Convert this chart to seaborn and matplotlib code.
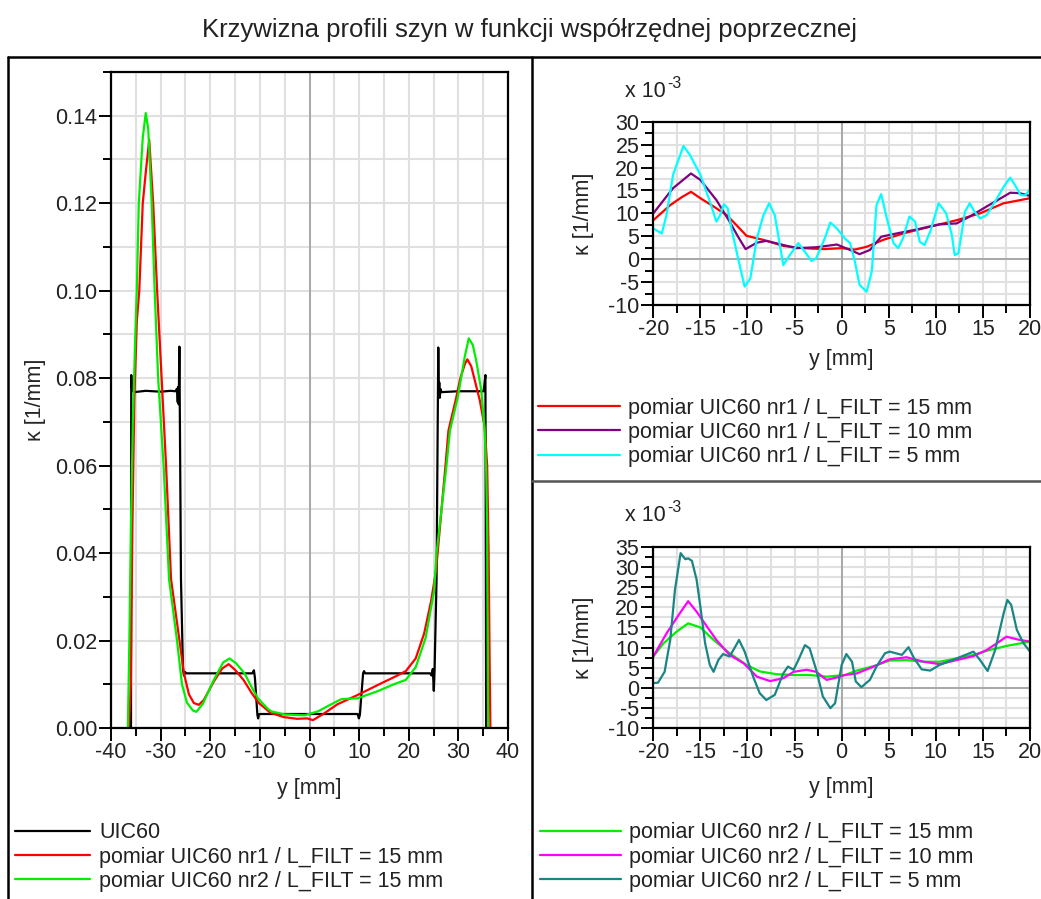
import matplotlib
matplotlib.use("Agg")
import matplotlib.pyplot as plt
from matplotlib.ticker import MultipleLocator, FormatStrFormatter
from matplotlib.lines import Line2D
import seaborn as sns

# ---------------- data ----------------
# UIC60 nominal profile curvature [1/mm]
uic60_y = [-36.05, -35.97, -35.92, -35.85, -35.7, -35.3, -33.0, -30.0, -28.0, -27.0,
           -26.7, -26.55, -26.45, -26.35, -26.22, -25.9, -25.5, -25.3, -25.1, -24.8,
           -18.0, -11.5, -11.2, -11.0, -10.5, -10.35, -10.2, -9.8, 0.0, 9.7,
           9.95, 10.15, 10.8, 11.0, 11.2, 18.0, 24.3, 24.6, 24.85, 25.05,
           25.2, 25.6, 25.95, 26.05, 26.15, 26.25, 26.4, 26.6, 30.0, 35.1,
           35.45, 35.6]
uic60_k = [0.0, 0.0, 0.0807, 0.0785, 0.0772, 0.0768, 0.0771, 0.0769, 0.0771, 0.0770,
           0.0776, 0.0745, 0.0780, 0.0740, 0.0872, 0.0340, 0.0135, 0.0120, 0.0128, 0.0125,
           0.0125, 0.0125, 0.0132, 0.0115, 0.0030, 0.0022, 0.0031, 0.0032, 0.0032, 0.0032,
           0.0022, 0.0030, 0.0125, 0.0130, 0.0125, 0.0125, 0.0125, 0.0120, 0.0135, 0.0085,
           0.0130, 0.0340, 0.0870, 0.0760, 0.0790, 0.0755, 0.0775, 0.0768, 0.0770, 0.0770,
           0.0807, 0.0]

# measurement nr1, L_FILT = 15 mm, full width [1/mm]
nr1_y = [-36.4, -36.0, -35.7, -35.3, -34.8, -34.3, -33.6, -33.0, -32.3, -31.5,
         -30.7, -29.8, -28.9, -27.9, -26.2, -25.3, -24.3, -23.3, -22.3, -21.3,
         -19.3, -17.6, -16.3, -15.0, -13.3, -11.6, -10.2, -7.9, -5.2, -2.5,
         -0.5, 0.7, 2.9, 5.6, 9.6, 13.7, 17.7, 19.4, 21.4, 23.1,
         24.5, 25.5, 27.4, 28.0, 29.6, 30.4, 31.3, 31.8, 32.6, 34.3,
         35.3, 35.8, 36.1, 36.3, 36.45]
nr1_k = [0.0, 0.010, 0.045, 0.075, 0.093, 0.100, 0.120, 0.127, 0.1345, 0.120,
         0.100, 0.080, 0.060, 0.034, 0.020, 0.0125, 0.0077, 0.0057, 0.0053, 0.0064,
         0.0106, 0.0136, 0.0146, 0.0133, 0.0110, 0.0079, 0.0057, 0.0035, 0.0025, 0.0021,
         0.0022, 0.0018, 0.0033, 0.0054, 0.0075, 0.0098, 0.0120, 0.0130, 0.0159, 0.0216,
         0.0290, 0.0360, 0.0600, 0.0680, 0.0757, 0.0800, 0.0832, 0.0843, 0.0827, 0.0750,
         0.0689, 0.0600, 0.0400, 0.0150, 0.0]

# measurement nr2, L_FILT = 15 mm, full width [1/mm]
nr2_y = [-36.6, -36.3, -36.0, -35.6, -35.1, -34.8, -34.4, -33.6, -33.0, -32.5,
         -31.8, -31.2, -30.5, -29.4, -28.3, -26.7, -25.7, -24.7, -23.5, -22.8,
         -21.5, -19.5, -17.4, -16.1, -14.8, -13.1, -11.5, -10.4, -8.5, -7.7,
         -5.0, -1.0, 1.7, 4.0, 6.4, 9.7, 13.7, 17.0, 19.4, 21.4,
         23.4, 25.1, 25.6, 27.6, 28.3, 29.9, 31.3, 32.1, 32.9, 33.6,
         34.6, 35.3, 35.6, 35.8, 35.9, 36.0]
nr2_k = [0.0, 0.020, 0.045, 0.070, 0.090, 0.100, 0.120, 0.135, 0.1406, 0.137,
         0.120, 0.100, 0.080, 0.060, 0.034, 0.020, 0.0100, 0.0058, 0.0040, 0.0037,
         0.0055, 0.0105, 0.0150, 0.0159, 0.0148, 0.0125, 0.0090, 0.0068, 0.0045, 0.0038,
         0.0031, 0.0029, 0.0038, 0.0052, 0.0066, 0.0068, 0.0084, 0.0100, 0.0110, 0.0139,
         0.0206, 0.0313, 0.0400, 0.0600, 0.0680, 0.0757, 0.0850, 0.0891, 0.0876, 0.0840,
         0.0773, 0.0681, 0.0590, 0.0450, 0.0200, 0.0]

# nr1 in the central zone, x 10^-3 [1/mm]
c1_f15_y = [-20.0, -18.2, -17.0, -16.0, -15.0, -13.6, -12.2, -11.2, -10.1, -8.3,
            -6.2, -4.1, -1.9, 0.0, 1.4, 2.65, 4.4, 6.5, 9.4, 12.2,
            14.7, 17.2, 20.0]
c1_f15_k = [8.5, 11.8, 13.5, 14.7, 13.3, 11.5, 9.6, 7.5, 5.1, 4.2,
            2.9, 2.4, 2.2, 2.4, 2.1, 2.7, 4.2, 5.6, 7.1, 8.5,
            10.0, 12.2, 13.3]

c1_f10_y = [-20.0, -17.9, -16.0, -15.0, -13.3, -11.9, -11.0, -10.2, -9.0, -8.0,
            -6.2, -4.8, -2.7, -0.5, 0.9, 1.9, 3.0, 4.2, 5.8, 8.0,
            10.4, 12.2, 13.6, 15.4, 17.9, 18.9, 20.0]
c1_f10_k = [10.0, 15.5, 18.7, 17.3, 12.9, 8.2, 4.9, 2.2, 3.6, 4.0,
            3.1, 2.4, 2.6, 3.2, 2.0, 1.1, 2.0, 4.9, 5.6, 6.5,
            7.6, 7.8, 9.3, 11.5, 14.5, 14.4, 13.8]

c1_f5_y = [-20.0, -19.1, -18.6, -17.9, -16.8, -16.1, -15.0, -14.0, -13.3, -12.9,
           -12.5, -12.1, -11.7, -11.0, -10.3, -9.7, -9.0, -8.3, -7.7, -7.1,
           -6.2, -5.5, -4.6, -3.9, -3.2, -2.7, -1.8, -1.2, -0.5, 0.35,
           0.9, 1.4, 1.9, 2.65, 3.2, 3.7, 4.2, 4.8, 5.5, 6.0,
           6.5, 7.2, 7.8, 8.3, 8.8, 9.4, 10.3, 11.1, 11.7, 12.0,
           12.4, 13.1, 13.6, 14.1, 14.7, 15.4, 16.5, 17.2, 17.9, 18.4,
           19.0, 19.5, 20.0]
c1_f5_k = [6.7, 5.6, 9.6, 18.4, 24.7, 22.7, 18.4, 12.6, 8.2, 9.6,
           12.0, 11.1, 6.7, 0.2, -6.0, -4.2, 4.6, 9.6, 12.2, 9.6,
           -1.3, 0.9, 3.5, 1.6, -0.4, 0.2, 4.5, 8.0, 6.7, 4.5,
           3.5, -0.5, -5.6, -7.1, -2.7, 11.8, 14.2, 8.9, 3.5, 2.4,
           4.5, 9.3, 8.2, 3.8, 3.1, 6.0, 12.2, 10.0, 5.3, 0.9,
           1.3, 10.4, 12.2, 10.4, 8.9, 9.6, 13.3, 15.8, 17.8, 16.2,
           14.0, 13.9, 15.3]

# nr2 in the central zone, x 10^-3 [1/mm]
c2_f15_y = [-20.0, -18.9, -17.5, -16.3, -15.0, -13.6, -11.9, -10.1, -8.7, -6.9,
            -5.1, -3.4, -1.6, 0.35, 1.6, 3.4, 5.1, 6.9, 8.7, 10.4,
            12.2, 14.0, 15.7, 17.5, 20.0]
c2_f15_k = [7.8, 11.1, 14.0, 16.0, 15.0, 11.9, 8.6, 5.7, 4.1, 3.4,
            3.2, 3.2, 2.8, 3.2, 4.3, 5.4, 6.8, 6.9, 6.5, 6.5,
            7.3, 8.2, 9.4, 10.4, 11.5]

c2_f10_y = [-20.0, -18.6, -17.3, -16.3, -15.4, -14.3, -13.3, -11.9, -10.4, -9.0,
            -7.6, -6.2, -5.1, -3.7, -2.7, -1.6, -0.5, 0.35, 1.6, 3.4,
            5.1, 6.9, 8.7, 10.4, 12.2, 14.0, 15.4, 16.5, 17.5, 18.9,
            20.0]
c2_f10_k = [7.8, 13.5, 18.1, 21.5, 18.9, 15.2, 11.9, 8.2, 6.1, 2.8,
            1.7, 2.4, 4.0, 4.5, 4.0, 2.0, 2.6, 3.2, 3.6, 5.3,
            7.1, 7.6, 6.5, 5.9, 6.9, 7.9, 9.4, 11.1, 12.7, 11.9,
            11.5]

c2_f5_y = [-20.0, -19.5, -18.8, -18.2, -17.7, -17.1, -16.6, -16.3, -15.9, -15.4,
           -15.0, -14.5, -14.0, -13.6, -13.1, -12.6, -11.9, -11.3, -10.9, -10.3,
           -9.4, -8.7, -8.0, -7.1, -6.2, -5.7, -5.1, -4.6, -3.9, -3.4,
           -2.7, -2.0, -1.2, -0.7, 0.0, 0.5, 1.1, 1.5, 2.1, 3.0,
           3.7, 4.6, 5.1, 6.4, 7.1, 7.7, 8.5, 9.4, 10.4, 12.2,
           14.0, 14.7, 15.5, 16.3, 17.2, 17.6, 18.0, 18.6, 19.3, 20.0]
c2_f5_k = [1.2, 1.3, 4.0, 11.9, 24.3, 33.4, 31.9, 32.1, 31.5, 26.8,
           20.1, 11.1, 5.7, 4.0, 6.9, 8.4, 7.8, 10.2, 11.9, 9.0,
           2.8, -1.3, -3.0, -1.7, 3.6, 5.3, 4.5, 6.9, 10.6, 9.8,
           4.5, -2.1, -5.0, -3.8, 5.7, 8.4, 6.5, 1.6, 0.2, 2.0,
           5.3, 8.6, 9.0, 8.2, 10.1, 7.3, 4.6, 4.3, 5.7, 7.3,
           9.0, 6.9, 4.2, 9.4, 18.5, 21.8, 20.6, 14.4, 11.1, 9.0]

labels_main = ["UIC60",
               "pomiar UIC60 nr1 / L_FILT = 15 mm",
               "pomiar UIC60 nr2 / L_FILT = 15 mm"]
labels_nr1 = ["pomiar UIC60 nr1 / L_FILT = 15 mm",
              "pomiar UIC60 nr1 / L_FILT = 10 mm",
              "pomiar UIC60 nr1 / L_FILT = 5 mm"]
labels_nr2 = ["pomiar UIC60 nr2 / L_FILT = 15 mm",
              "pomiar UIC60 nr2 / L_FILT = 10 mm",
              "pomiar UIC60 nr2 / L_FILT = 5 mm"]

# ---------------- style ----------------
sns.set_style("white")
plt.rcParams["font.family"] = ["Liberation Sans", "DejaVu Sans"]
plt.rcParams["axes.unicode_minus"] = False
plt.rcParams["text.color"] = "#222222"
plt.rcParams["lines.solid_joinstyle"] = "round"

W, H = 1041, 899
FS = 15.5
fig = plt.figure(figsize=(W / 100, H / 100), dpi=100)


def px_axes(left, top, right, bottom):
    return fig.add_axes([left / W, 1 - bottom / H, (right - left) / W, (bottom - top) / H])


def style(ax, xmaj, xmin, ymaj, ymin):
    ax.xaxis.set_major_locator(MultipleLocator(xmaj))
    ax.xaxis.set_minor_locator(MultipleLocator(xmin))
    ax.yaxis.set_major_locator(MultipleLocator(ymaj))
    ax.yaxis.set_minor_locator(MultipleLocator(ymin))
    ax.grid(which="both", color="#e0e0e0", lw=1.5)
    ax.set_axisbelow(True)
    for s in ax.spines.values():
        s.set_visible(True)
        s.set_color("black")
        s.set_linewidth(1.6)
    ax.tick_params(which="major", direction="out", length=9, width=1.4,
                   labelsize=FS, pad=1, colors="black", labelcolor="#222222",
                   left=True, bottom=True)
    ax.tick_params(which="minor", direction="out", length=6, width=1.4,
                   left=True, bottom=True, colors="black")


LW = 1.6

# ---- left panel: full width ----
axL = px_axes(111, 72, 508, 728)
sns.lineplot(x=uic60_y, y=uic60_k, ax=axL, color="black", lw=LW, sort=False,
             estimator=None, legend=False, label=labels_main[0])
sns.lineplot(x=nr1_y, y=nr1_k, ax=axL, color="#ff0000", lw=LW, sort=False,
             estimator=None, legend=False, label=labels_main[1])
sns.lineplot(x=nr2_y, y=nr2_k, ax=axL, color="#00ee00", lw=LW, sort=False,
             estimator=None, legend=False, label=labels_main[2])
axL.axvline(0, color="#9a9a9a", lw=1.1, zorder=1.5)
axL.set_xlim(-40, 40)
axL.set_ylim(0, 0.15)
style(axL, 10, 5, 0.02, 0.01)
axL.yaxis.set_major_formatter(FormatStrFormatter("%.2f"))
axL.set_xlabel("y [mm]", fontsize=FS)
axL.set_ylabel("κ [1/mm]", fontsize=FS)
axL.xaxis.set_label_coords(0.5, -0.0915)
axL.xaxis.label.set_va("center")
axL.yaxis.set_label_coords(-0.191, 0.5)
axL.yaxis.label.set_va("center")

# ---- top right: nr1 central zone ----
axT = px_axes(653.3, 121.7, 1030, 305)
sns.lineplot(x=c1_f15_y, y=c1_f15_k, ax=axT, color="#ff0000", lw=LW, sort=False,
             estimator=None, legend=False, label=labels_nr1[0])
sns.lineplot(x=c1_f10_y, y=c1_f10_k, ax=axT, color="#800080", lw=LW, sort=False,
             estimator=None, legend=False, label=labels_nr1[1])
sns.lineplot(x=c1_f5_y, y=c1_f5_k, ax=axT, color="#00ffff", lw=LW, sort=False,
             estimator=None, legend=False, label=labels_nr1[2])
axT.set_xlim(-20, 20)
axT.set_ylim(-10, 30)

# ---- bottom right: nr2 central zone ----
axB = px_axes(653.3, 546.7, 1030, 728.3)
sns.lineplot(x=c2_f15_y, y=c2_f15_k, ax=axB, color="#00ee00", lw=LW, sort=False,
             estimator=None, legend=False, label=labels_nr2[0])
sns.lineplot(x=c2_f10_y, y=c2_f10_k, ax=axB, color="#ff00ff", lw=LW, sort=False,
             estimator=None, legend=False, label=labels_nr2[1])
sns.lineplot(x=c2_f5_y, y=c2_f5_k, ax=axB, color="#1a8585", lw=LW, sort=False,
             estimator=None, legend=False, label=labels_nr2[2])
axB.set_xlim(-20, 20)
axB.set_ylim(-10, 35)

for ax, xl_y in ((axT, -0.300), (axB, -0.3287)):
    ax.axvline(0, color="#9a9a9a", lw=1.1, zorder=1.5)
    ax.axhline(0, color="#9a9a9a", lw=1.1, zorder=1.5)
    style(ax, 5, 2.5, 5, 2.5)
    ax.set_xlabel("y [mm]", fontsize=FS)
    ax.set_ylabel("κ [1/mm]", fontsize=FS)
    ax.xaxis.set_label_coords(0.5, xl_y)
    ax.xaxis.label.set_va("center")
    ax.yaxis.set_label_coords(-0.1866, 0.5)
    ax.yaxis.label.set_va("center")

# scale factor notes (x 10^-3)
for base in (97, 521):
    fig.text(625 / W, 1 - base / H, "x 10", fontsize=FS, ha="left", va="baseline")
    fig.text(667 / W, 1 - (base - 9) / H, "-3", fontsize=11.5, ha="left", va="baseline")

# title
fig.text(529.5 / W, 1 - 30 / H, "Krzywizna profili szyn w funkcji współrzędnej poprzecznej",
         fontsize=18.5, ha="center", va="center")


# legends
def add_legend(ax, x0, yc, hl):
    h, l = ax.get_legend_handles_labels()
    fig.legend(h, l, loc="center left", bbox_to_anchor=(x0 / W, 1 - yc / H),
               frameon=False, fontsize=FS, handlelength=hl, handletextpad=0.4,
               labelspacing=0.16, borderpad=0, borderaxespad=0)


add_legend(axL, 15, 857, 3.5)
add_legend(axT, 538, 432.5, 3.8)
add_legend(axB, 540, 857, 3.75)

# panel frames
frame_kw = dict(transform=fig.transFigure, color="black", lw=1.8)
fig.add_artist(Line2D([8 / W, 1], [1 - 57 / H, 1 - 57 / H], **frame_kw))
fig.add_artist(Line2D([8 / W, 8 / W], [0, 1 - 57 / H], **frame_kw))
fig.add_artist(Line2D([532 / W, 532 / W], [0, 1 - 57 / H], **frame_kw))
fig.add_artist(Line2D([532 / W, 1], [1 - 481 / H, 1 - 481 / H],
                      transform=fig.transFigure, color="#555555", lw=1.8))

fig.savefig("out.png", dpi=100)
